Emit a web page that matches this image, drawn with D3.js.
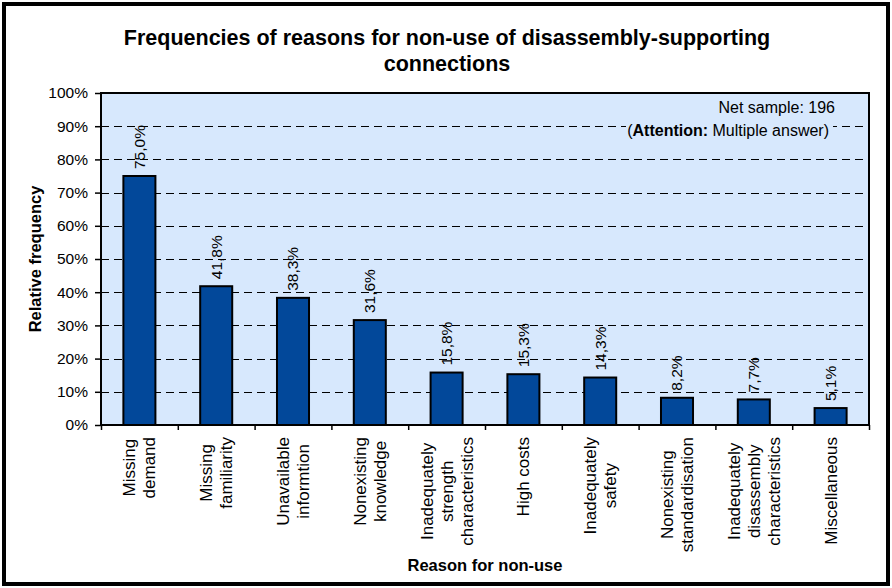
<!DOCTYPE html>
<html>
<head>
<meta charset="utf-8">
<script src="https://cdn.jsdelivr.net/npm/d3@7/dist/d3.min.js"></script>
<style>
  body { margin: 0; background: #fff; }
  svg { display: block; font-family: Arial, "Liberation Sans", sans-serif; }
</style>
</head>
<body>
<svg id="myGraph" width="892" height="588"></svg>
<script>
var svgWidth = 892;
var svgHeight = 588;

// categories (one entry per line of the rotated label)
var categories = [
  ['Missing', 'demand'],
  ['Missing', 'familiarity'],
  ['Unavailable', 'informtion'],
  ['Nonexisting', 'knowledge'],
  ['Inadequately', 'strength', 'characteristics'],
  ['High costs'],
  ['Inadequately', 'safety'],
  ['Nonexisting', 'standardisation'],
  ['Inadequately', 'disassembly', 'characteristics'],
  ['Miscellaneous']
];
var values = [75.0, 41.8, 38.3, 31.6, 15.8, 15.3, 14.3, 8.2, 7.7, 5.1];
var yTicks = [0, 10, 20, 30, 40, 50, 60, 70, 80, 90, 100];

var plot = { left: 101, right: 869, top: 93, bottom: 425 };
var bgColor = '#d7e8fd';
var barColor = '#02489a';

var svg = d3.select('#myGraph');

// outer frame
svg.append('rect')
  .attr('x', 4).attr('y', 4)
  .attr('width', svgWidth - 8).attr('height', svgHeight - 8)
  .attr('fill', '#fff')
  .attr('stroke', '#000')
  .attr('stroke-width', 4);

// title
var title = svg.append('text')
  .attr('text-anchor', 'middle')
  .style('font-weight', 'bold')
  .style('font-size', '21.5px');
title.append('tspan').attr('x', 447).attr('y', 45)
  .text('Frequencies of reasons for non-use of disassembly-supporting');
title.append('tspan').attr('x', 447).attr('y', 71)
  .text('connections');

var x = d3.scaleBand()
  .domain(d3.range(values.length))
  .range([plot.left, plot.right])
  .paddingInner(0.583)
  .paddingOuter(0.2915);

var xEdges = d3.scaleLinear()
  .domain([0, values.length])
  .range([plot.left, plot.right]);

var y = d3.scaleLinear()
  .domain([0, 100])
  .range([plot.bottom, plot.top]);

// plot background
svg.append('rect')
  .attr('x', plot.left).attr('y', plot.top)
  .attr('width', plot.right - plot.left)
  .attr('height', plot.bottom - plot.top)
  .attr('fill', bgColor);

// gridlines
svg.append('g')
  .selectAll('line')
  .data(yTicks.filter(function(d) { return d > 0 && d < 100; }))
  .enter()
  .append('line')
  .attr('x1', plot.left).attr('x2', plot.right)
  .attr('y1', function(d) { return Math.round(y(d)) + 0.5; })
  .attr('y2', function(d) { return Math.round(y(d)) + 0.5; })
  .attr('stroke', '#000')
  .attr('stroke-width', 1)
  .attr('stroke-dasharray', '8,5');

// annotation box (covers the gridline behind it)
svg.append('rect')
  .attr('x', 626).attr('y', 96)
  .attr('width', 207).attr('height', 44)
  .attr('fill', bgColor);

var note = svg.append('g').style('font-size', '16px');
note.append('text')
  .attr('x', 835).attr('y', 113)
  .attr('text-anchor', 'end')
  .text('Net sample: 196');
var note2 = note.append('text')
  .attr('x', 829).attr('y', 136)
  .attr('text-anchor', 'end');
note2.append('tspan').text('(');
note2.append('tspan').style('font-weight', 'bold').text('Attention:');
note2.append('tspan').text(' Multiple answer)');

// bars
svg.append('g')
  .selectAll('rect')
  .data(values)
  .enter()
  .append('rect')
  .attr('x', function(d, i) { return x(i); })
  .attr('y', function(d) { return y(d); })
  .attr('width', x.bandwidth())
  .attr('height', function(d) { return y(0) - y(d); })
  .attr('fill', barColor)
  .attr('stroke', '#000')
  .attr('stroke-width', 2);

// value labels
svg.append('g')
  .selectAll('text')
  .data(values)
  .enter()
  .append('text')
  .attr('transform', function(d, i) {
    return 'translate(' + (x(i) + x.bandwidth() / 2) + ',' + (y(d) - 7) + ') rotate(-90)';
  })
  .attr('dy', '0.35em')
  .style('font-size', '15.5px')
  .text(function(d) { return d.toFixed(1).replace('.', ',') + '%'; });

// plot border
svg.append('rect')
  .attr('x', plot.left).attr('y', plot.top)
  .attr('width', plot.right - plot.left)
  .attr('height', plot.bottom - plot.top)
  .attr('fill', 'none')
  .attr('stroke', '#000')
  .attr('stroke-width', 2);

// y axis
var yAxis = svg.append('g')
  .attr('transform', 'translate(' + plot.left + ',0)')
  .call(d3.axisLeft(y)
    .tickValues(yTicks)
    .tickSize(6)
    .tickPadding(7)
    .tickFormat(function(d) { return d + '%'; }));
yAxis.select('.domain').remove();
yAxis.selectAll('line').attr('stroke', '#000').attr('stroke-width', 1.5);
yAxis.selectAll('text')
  .style('font-size', '15.5px')
  .style('font-family', 'Arial, "Liberation Sans", sans-serif')
  .attr('fill', '#000');

// x axis ticks at band edges
var xAxis = svg.append('g')
  .attr('transform', 'translate(0,' + plot.bottom + ')')
  .call(d3.axisBottom(xEdges)
    .tickValues(d3.range(values.length + 1))
    .tickSize(5)
    .tickFormat(''));
xAxis.select('.domain').remove();
xAxis.selectAll('line').attr('stroke', '#000').attr('stroke-width', 1.5);

// category labels, rotated, lines centred on the longest line
var labelTop = 437;
var lineGap = 20;
var catGroups = svg.append('g')
  .selectAll('g')
  .data(categories)
  .enter()
  .append('g');

catGroups.each(function(lines, i) {
  var g = d3.select(this);
  var cx = x(i) + x.bandwidth() / 2;
  var texts = g.selectAll('text')
    .data(lines)
    .enter()
    .append('text')
    .style('font-size', '17px')
    .attr('text-anchor', 'middle')
    .attr('dy', '0.35em')
    .text(function(d) { return d; });
  var maxLen = 0;
  texts.each(function() {
    maxLen = Math.max(maxLen, this.getComputedTextLength());
  });
  var cy = labelTop + maxLen / 2;
  texts.attr('transform', function(d, j) {
    var lx = cx + (j - (lines.length - 1) / 2) * lineGap;
    return 'translate(' + lx + ',' + cy + ') rotate(-90)';
  });
});

// axis titles
svg.append('text')
  .attr('transform', 'translate(35,' + ((plot.top + plot.bottom) / 2) + ') rotate(-90)')
  .attr('text-anchor', 'middle')
  .attr('dy', '0.35em')
  .style('font-weight', 'bold')
  .style('font-size', '16.5px')
  .text('Relative frequency');

svg.append('text')
  .attr('x', (plot.left + plot.right) / 2)
  .attr('y', 571)
  .attr('text-anchor', 'middle')
  .style('font-weight', 'bold')
  .style('font-size', '16.5px')
  .text('Reason for non-use');
</script>
</body>
</html>
